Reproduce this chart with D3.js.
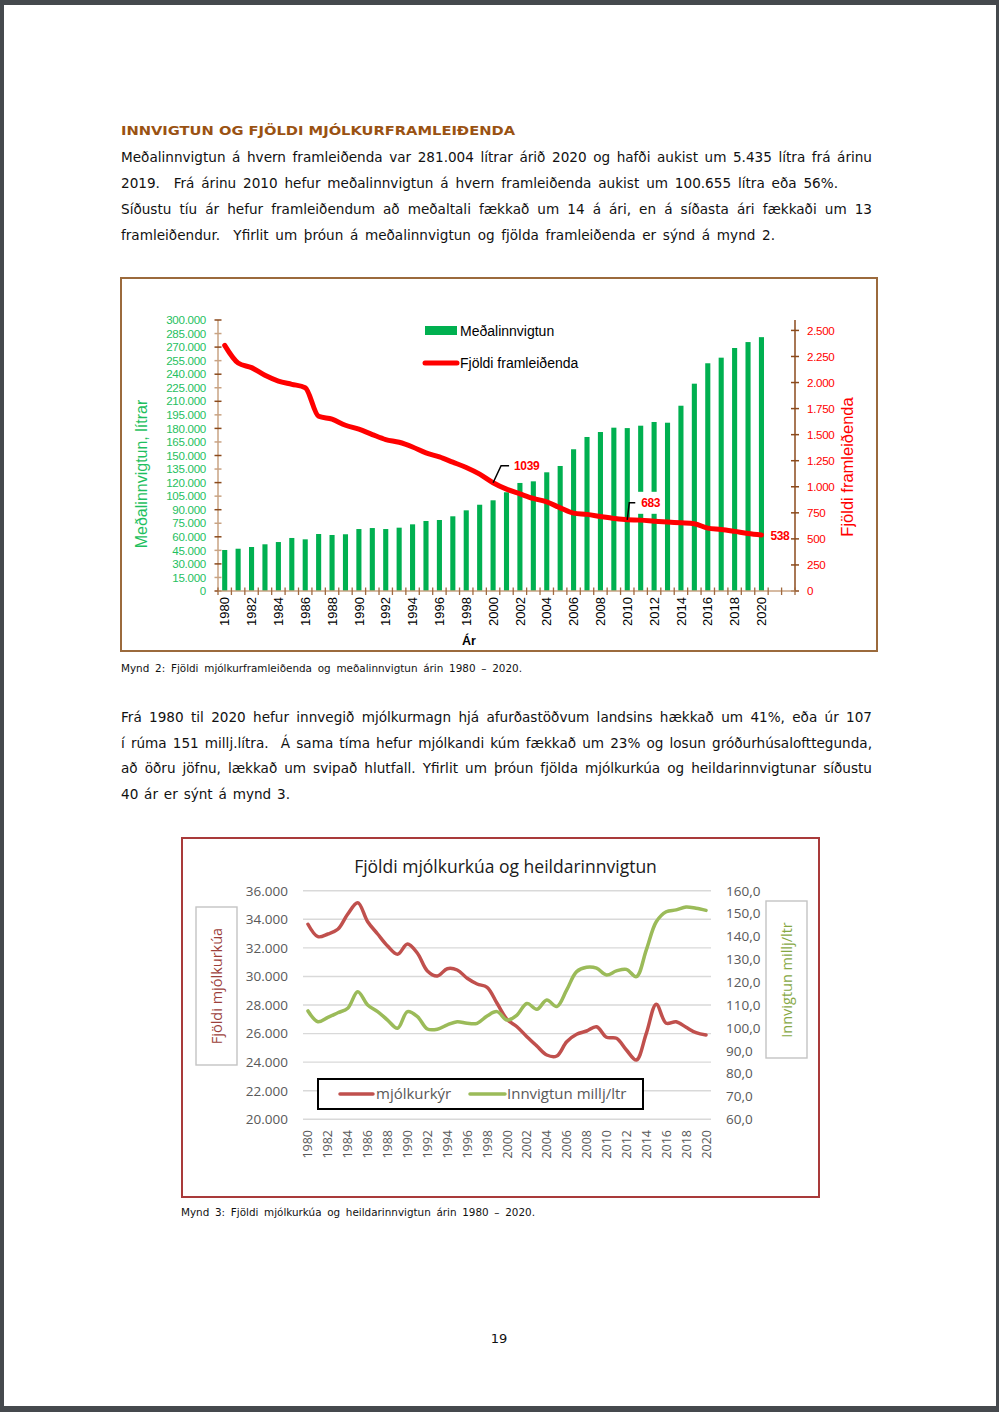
<!DOCTYPE html>
<html><head><meta charset="utf-8">
<script src="https://cdn.jsdelivr.net/npm/d3@7/dist/d3.min.js"></script>
<style>
html,body{margin:0;padding:0;background:#45494d;overflow:hidden}
svg{display:block}
text{white-space:pre}
</style>
</head><body>
<svg id="page" width="999" height="1412"></svg>
<script>
// ---------------- DATA ----------------
const years = [1980,1981,1982,1983,1984,1985,1986,1987,1988,1989,1990,1991,1992,1993,1994,1995,1996,1997,1998,1999,2000,2001,2002,2003,2004,2005,2006,2007,2008,2009,2010,2011,2012,2013,2014,2015,2016,2017,2018,2019,2020];

// Mynd 2
const avgIntake = [45400,46800,48700,51700,54200,58700,57200,63100,62000,62800,68600,69700,68600,70100,73800,77500,78600,82700,89300,95500,100400,109300,119600,121400,131400,138400,156900,170500,176000,180800,180349,183000,187100,186300,205100,229500,252100,258300,269000,275569,281004];
const producers = [2356,2187,2143,2069,2014,1983,1951,1676,1648,1590,1552,1501,1453,1427,1382,1325,1286,1236,1185,1121,1039,977,932,888,855,798,747,735,715,696,683,680,670,661,654,645,603,591,572,551,538];
const leftTicks1 = [0,15000,30000,45000,60000,75000,90000,105000,120000,135000,150000,165000,180000,195000,210000,225000,240000,255000,270000,285000,300000];
const rightTicks1 = [0,250,500,750,1000,1250,1500,1750,2000,2250,2500];
const labelled1 = [{year:2000, v:1039, leader:true},{year:2010, v:683, leader:true, box:true},{year:2020, v:538, leader:false}];

// Mynd 3
const cows = [33650,32780,32970,33300,34370,35160,33830,32970,32130,31550,32270,31620,30380,30030,30540,30450,29870,29470,29240,28120,27000,26480,25780,25130,24500,24430,25430,25950,26180,26480,25740,25670,24850,24150,26020,28050,26720,26830,26440,26060,25900];
const intake = [107.4,102.7,104.6,106.6,108.6,115.8,110.0,107.1,103.4,99.8,107.1,104.9,99.5,99.4,101.3,102.7,102.0,102.0,105.2,107.1,103.4,105.6,110.7,108.1,112.2,109.3,116.6,124.6,126.5,126.1,123.1,124.9,125.6,122.4,134.1,146.4,150.8,151.6,152.9,152.3,151.4];
const leftTicks2 = [20000,22000,24000,26000,28000,30000,32000,34000,36000];
const rightTicks2 = [60,70,80,90,100,110,120,130,140,150,160];

// Text
const heading = "INNVIGTUN OG FJÖLDI MJÓLKURFRAMLEIÐENDA";
const para1 = [
 ["Meðalinnvigtun á hvern framleiðenda var 281.004 lítrar árið 2020 og hafði aukist um 5.435 lítra frá árinu", 751],
 ["2019.  Frá árinu 2010 hefur meðalinnvigtun á hvern framleiðenda aukist um 100.655 lítra eða 56%.", 717],
 ["Síðustu tíu ár hefur framleiðendum að meðaltali fækkað um 14 á ári, en á síðasta ári fækkaði um 13", 751],
 ["framleiðendur.  Yfirlit um þróun á meðalinnvigtun og fjölda framleiðenda er sýnd á mynd 2.", 654]
];
const para2 = [
 ["Frá 1980 til 2020 hefur innvegið mjólkurmagn hjá afurðastöðvum landsins hækkað um 41%, eða úr 107", 751],
 ["í rúma 151 millj.lítra.  Á sama tíma hefur mjólkandi kúm fækkað um 23% og losun gróðurhúsalofttegunda,", 751],
 ["að öðru jöfnu, lækkað um svipað hlutfall. Yfirlit um þróun fjölda mjólkurkúa og heildarinnvigtunar síðustu", 751],
 ["40 ár er sýnt á mynd 3.", 169]
];
const caption2 = "Mynd 2: Fjöldi mjólkurframleiðenda og meðalinnvigtun árin 1980 – 2020.";
const caption3 = "Mynd 3: Fjöldi mjólkurkúa og heildarinnvigtun árin 1980 – 2020.";

// ---------------- HELPERS ----------------
const svg = d3.select("#page");
const loc = d3.formatLocale({decimal:",", thousands:".", grouping:[3], currency:["",""]});
const fmtThousands = loc.format(",");
const fmtOneDec = loc.format(",.1f");

function fit(sel, width){
  const n = sel.node();
  const nat = n.getComputedTextLength();
  const txt = sel.text();
  const sp = (txt.match(/ /g)||[]).length;
  if (sp > 0){
    sel.attr("word-spacing", ((width-nat)/sp).toFixed(3));
    const now = n.getComputedTextLength();
    if (Math.abs(now-width) < 2) return;
    sel.attr("word-spacing", null);
  }
  sel.attr("textLength", width).attr("lengthAdjust", "spacing");
}

// page
svg.append("rect").attr("x",4).attr("y",5).attr("width",992).attr("height",1401).attr("fill","#ffffff");

const BODY = "'DejaVu Sans', Verdana, sans-serif";

// heading
svg.append("text").attr("x",121).attr("y",135).attr("font-family",BODY).attr("font-weight","bold")
  .attr("font-size",12.6).attr("fill","#9a5212").text(heading)
  .attr("textLength",394).attr("lengthAdjust","spacingAndGlyphs");

para1.forEach((l,i)=>{
  const t = svg.append("text").attr("x",121).attr("y",162+i*26).attr("font-family",BODY)
    .attr("font-size",13.6).attr("fill","#111").text(l[0]);
  fit(t, l[1]);
});
para2.forEach((l,i)=>{
  const t = svg.append("text").attr("x",121).attr("y",722+i*25.7).attr("font-family",BODY)
    .attr("font-size",13.6).attr("fill","#111").text(l[0]);
  fit(t, l[1]);
});
fit(svg.append("text").attr("x",121).attr("y",672).attr("font-family",BODY).attr("font-size",10.4).attr("fill","#111").text(caption2), 401);
fit(svg.append("text").attr("x",181).attr("y",1216).attr("font-family",BODY).attr("font-size",10.4).attr("fill","#111").text(caption3), 354);
svg.append("text").attr("x",499).attr("y",1343).attr("text-anchor","middle").attr("font-family",BODY).attr("font-size",13).attr("fill","#111").text("19");

// ---------------- CHART 1 ----------------
(function(){
  const g = svg.append("g");
  const F = "'Liberation Sans', Arial, sans-serif";
  g.append("rect").attr("x",121).attr("y",278).attr("width",756).attr("height",373)
    .attr("fill","none").attr("stroke","#9b6a3c").attr("stroke-width",2);

  const axL = 218, axR = 795, base = 591, top = 320;
  const slots = years.length + 2;            // axis runs two empty slots past the last year
  const step = (axR-axL)/slots;
  const x = d3.scaleBand().domain(years).range([axL, axL+step*years.length]);
  const yL = d3.scaleLinear().domain([0,300000]).range([base,top]);
  const yR = d3.scaleLinear().domain([0,2600]).range([base,top]);
  const green = "#00b050", red = "#ff0000";

  // bars
  const bw = x.bandwidth()*0.38;
  g.selectAll("rect.bar").data(years.map((y,i)=>({year:y,v:avgIntake[i]}))).join("rect")
    .attr("class","bar").attr("x",d=>x(d.year)+x.bandwidth()/2-bw/2).attr("width",bw)
    .attr("y",d=>yL(d.v)).attr("height",d=>base-yL(d.v)).attr("fill",green);

  // left axis
  g.append("line").attr("x1",axL).attr("x2",axL).attr("y1",top).attr("y2",base).attr("stroke","#c9a383").attr("stroke-width",1.5);
  leftTicks1.forEach((v,i)=>{
    g.append("line").attr("x1",axL-3.5).attr("x2",axL+3.5).attr("y1",yL(v)).attr("y2",yL(v))
      .attr("stroke", i%2===0 ? "#8b4a1c" : "#c9a383").attr("stroke-width",1.5);
    g.append("text").attr("x",206).attr("y",yL(v)).attr("dy","0.36em").attr("text-anchor","end")
      .attr("font-family",F).attr("font-size",11.6).attr("letter-spacing",-0.3).attr("fill","#1fbf5f").text(fmtThousands(v));
  });
  // right axis
  g.append("line").attr("x1",axR).attr("x2",axR).attr("y1",top).attr("y2",base).attr("stroke","#8b4a1c").attr("stroke-width",1.5);
  rightTicks1.forEach(v=>{
    g.append("line").attr("x1",axR-4).attr("x2",axR+4).attr("y1",yR(v)).attr("y2",yR(v)).attr("stroke","#8b4a1c").attr("stroke-width",1.5);
    g.append("text").attr("x",807).attr("y",yR(v)).attr("dy","0.36em")
      .attr("font-family",F).attr("font-size",11.6).attr("letter-spacing",-0.3).attr("fill",red).text(fmtThousands(v));
  });
  // x axis
  g.append("line").attr("x1",axL).attr("x2",axR).attr("y1",base).attr("y2",base).attr("stroke","#c9a383").attr("stroke-width",1.5);
  d3.range(slots+1).forEach(i=>{
    g.append("line").attr("x1",axL+i*step).attr("x2",axL+i*step).attr("y1",base-3.5).attr("y2",base+4)
      .attr("stroke","#a0693f").attr("stroke-width",1.3);
  });
  years.forEach((y,i)=>{
    if (i%2) return;
    g.append("text").attr("transform",`translate(${x(y)+x.bandwidth()/2},597) rotate(-90)`)
      .attr("dy","0.36em").attr("text-anchor","end").attr("font-family",F).attr("font-size",13).attr("fill","#000").text(y);
  });
  g.append("text").attr("x",469).attr("y",645).attr("text-anchor","middle").attr("font-family",F)
    .attr("font-weight","bold").attr("font-size",12.5).attr("fill","#000").text("Ár");

  // line
  const line = d3.line().x(d=>x(d.year)+x.bandwidth()/2).y(d=>yR(d.v)).curve(d3.curveMonotoneX);
  g.append("path").datum(years.map((y,i)=>({year:y,v:producers[i]}))).attr("d",line)
    .attr("fill","none").attr("stroke",red).attr("stroke-width",5).attr("stroke-linecap","round").attr("stroke-linejoin","round");

  // labels
  labelled1.forEach(l=>{
    const px = x(l.year)+x.bandwidth()/2, py = yR(l.v);
    if (l.leader){
      const ly = py-17;
      if (l.box) g.append("rect").attr("x",px+8).attr("y",ly-11).attr("width",27).attr("height",22).attr("fill","#fff");
      g.append("path").attr("d",`M${px},${py}L${px+(l.box?2:8)},${ly}L${px+(l.box?8:16)},${ly}`)
        .attr("fill","none").attr("stroke","#000").attr("stroke-width",1.5);
      g.append("text").attr("x",px+(l.box?14:21)).attr("y",ly).attr("dy","0.36em").attr("font-family",F)
        .attr("font-weight","bold").attr("font-size",12).attr("letter-spacing",-0.4).attr("fill",red).text(l.v);
    } else {
      g.append("text").attr("x",px+9).attr("y",py+1).attr("dy","0.36em").attr("font-family",F)
        .attr("font-weight","bold").attr("font-size",12).attr("letter-spacing",-0.4).attr("fill",red).text(l.v);
    }
  });

  // legend
  g.append("rect").attr("x",425).attr("y",326).attr("width",32).attr("height",9).attr("fill",green);
  g.append("text").attr("x",460).attr("y",331).attr("dy","0.36em").attr("font-family",F).attr("font-size",14).attr("fill","#000").text("Meðalinnvigtun");
  g.append("line").attr("x1",425).attr("x2",457).attr("y1",363).attr("y2",363).attr("stroke",red).attr("stroke-width",5).attr("stroke-linecap","round");
  g.append("text").attr("x",460).attr("y",363).attr("dy","0.36em").attr("font-family",F).attr("font-size",14).attr("fill","#000").text("Fjöldi framleiðenda");

  // titles
  g.append("text").attr("transform","translate(147,474) rotate(-90)").attr("text-anchor","middle")
    .attr("font-family",F).attr("font-size",16).attr("fill","#1fbf5f").text("Meðalinnvigtun, lítrar");
  g.append("text").attr("transform","translate(853,467) rotate(-90)").attr("text-anchor","middle")
    .attr("font-family",F).attr("font-size",16.5).attr("fill",red).text("Fjöldi framleiðenda");
})();

// ---------------- CHART 2 ----------------
(function(){
  const g = svg.append("g");
  const F = "'Open Sans', 'Noto Sans', sans-serif";
  g.append("rect").attr("x",182).attr("y",838).attr("width",637).attr("height",359)
    .attr("fill","none").attr("stroke","#a93a3a").attr("stroke-width",2);
  const x = d3.scaleBand().domain(years).range([303,711]);
  const yl = d3.scaleLinear().domain([20000,36000]).range([1119.3,890.7]);
  const yr = d3.scaleLinear().domain([60,160]).range([1119.3,890.7]);
  const cx = d=>x(d)+x.bandwidth()/2;

  g.append("text").attr("x",505.5).attr("y",873).attr("text-anchor","middle").attr("font-family",F)
    .attr("font-size",17.5).attr("fill","#1a1a1a").text("Fjöldi mjólkurkúa og heildarinnvigtun");

  leftTicks2.forEach(v=>{
    g.append("line").attr("x1",303).attr("x2",711).attr("y1",yl(v)).attr("y2",yl(v)).attr("stroke","#d9d9d9").attr("stroke-width",1.4);
    g.append("text").attr("x",288).attr("y",yl(v)).attr("dy","0.36em").attr("text-anchor","end").attr("font-family",F)
      .attr("font-size",13.5).attr("fill","#595959").text(fmtThousands(v));
  });
  rightTicks2.forEach(v=>{
    g.append("text").attr("x",726).attr("y",yr(v)).attr("dy","0.36em").attr("font-family",F)
      .attr("font-size",13.5).attr("fill","#595959").text(fmtOneDec(v));
  });
  years.forEach((y,i)=>{
    if (i%2) return;
    g.append("text").attr("transform",`translate(${cx(y)},1130) rotate(-90)`).attr("dy","0.36em").attr("text-anchor","end")
      .attr("font-family",F).attr("font-size",12.5).attr("fill","#595959").text(y);
  });

  const lineL = d3.line().x(d=>cx(d.year)).y(d=>yl(d.v)).curve(d3.curveCatmullRom);
  const lineR = d3.line().x(d=>cx(d.year)).y(d=>yr(d.v)).curve(d3.curveCatmullRom);
  g.append("path").datum(years.map((y,i)=>({year:y,v:cows[i]}))).attr("d",lineL)
    .attr("fill","none").attr("stroke","#c0504d").attr("stroke-width",3.5).attr("stroke-linecap","round");
  g.append("path").datum(years.map((y,i)=>({year:y,v:intake[i]}))).attr("d",lineR)
    .attr("fill","none").attr("stroke","#9bbb59").attr("stroke-width",3.5).attr("stroke-linecap","round");

  // axis title boxes
  g.append("rect").attr("x",196).attr("y",907).attr("width",41).attr("height",158).attr("fill","#fff").attr("stroke","#c4c4c4").attr("stroke-width",1.4);
  g.append("text").attr("transform","translate(221.5,986) rotate(-90)").attr("text-anchor","middle").attr("font-family",F)
    .attr("font-size",14.5).attr("fill","#9c3f3b").text("Fjöldi mjólkurkúa");
  g.append("rect").attr("x",766).attr("y",901).attr("width",41).attr("height",157).attr("fill","#fff").attr("stroke","#c4c4c4").attr("stroke-width",1.4);
  g.append("text").attr("transform","translate(792,980) rotate(-90)").attr("text-anchor","middle").attr("font-family",F)
    .attr("font-size",14.5).attr("fill","#86a844").text("Innvigtun millj/ltr");

  // legend
  g.append("rect").attr("x",318).attr("y",1079).attr("width",325).attr("height",30).attr("fill","#fff").attr("stroke","#000").attr("stroke-width",2);
  g.append("line").attr("x1",340).attr("x2",373).attr("y1",1094).attr("y2",1094).attr("stroke","#c0504d").attr("stroke-width",3.5).attr("stroke-linecap","round");
  g.append("text").attr("x",376).attr("y",1094).attr("dy","0.36em").attr("font-family",F).attr("font-size",15).attr("fill","#595959").text("mjólkurkýr");
  g.append("line").attr("x1",470).attr("x2",505).attr("y1",1094).attr("y2",1094).attr("stroke","#9bbb59").attr("stroke-width",3.5).attr("stroke-linecap","round");
  g.append("text").attr("x",507).attr("y",1094).attr("dy","0.36em").attr("font-family",F).attr("font-size",15).attr("fill","#595959").text("Innvigtun millj/ltr");
})();
</script>
</body></html>
